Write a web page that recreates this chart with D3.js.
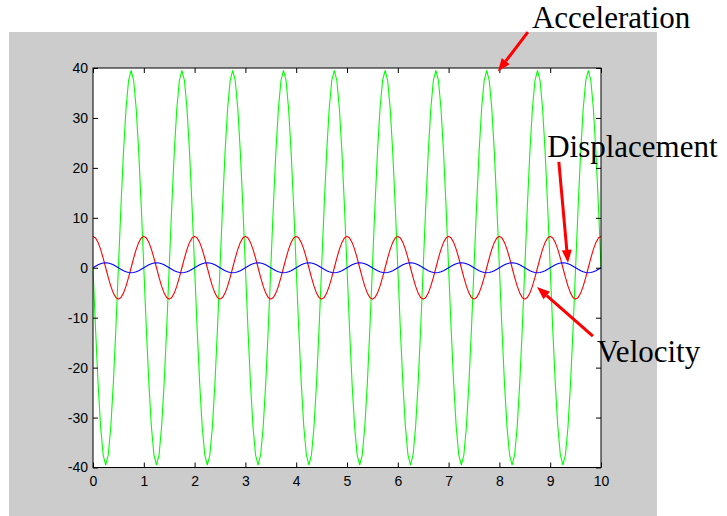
<!DOCTYPE html>
<html>
<head>
<meta charset="utf-8">
<script src="https://cdn.jsdelivr.net/npm/d3@7"></script>
<style>
  body { margin: 0; background: #fff; }
  svg { display: block; }
</style>
</head>
<body>
<div id="chart"></div>
<script>
// sampled every 0.05 s from 0 to 10 s
const sampleStep = 0.05;

const displacement = [
  0,0.31,0.59,0.81,0.95,1,0.95,0.81,0.59,0.31,0,-0.31,-0.59,-0.81,-0.95,-1,-0.95,-0.81,-0.59,-0.31,
  0,0.31,0.59,0.81,0.95,1,0.95,0.81,0.59,0.31,0,-0.31,-0.59,-0.81,-0.95,-1,-0.95,-0.81,-0.59,-0.31,
  0,0.31,0.59,0.81,0.95,1,0.95,0.81,0.59,0.31,0,-0.31,-0.59,-0.81,-0.95,-1,-0.95,-0.81,-0.59,-0.31,
  0,0.31,0.59,0.81,0.95,1,0.95,0.81,0.59,0.31,0,-0.31,-0.59,-0.81,-0.95,-1,-0.95,-0.81,-0.59,-0.31,
  0,0.31,0.59,0.81,0.95,1,0.95,0.81,0.59,0.31,0,-0.31,-0.59,-0.81,-0.95,-1,-0.95,-0.81,-0.59,-0.31,
  0,0.31,0.59,0.81,0.95,1,0.95,0.81,0.59,0.31,0,-0.31,-0.59,-0.81,-0.95,-1,-0.95,-0.81,-0.59,-0.31,
  0,0.31,0.59,0.81,0.95,1,0.95,0.81,0.59,0.31,0,-0.31,-0.59,-0.81,-0.95,-1,-0.95,-0.81,-0.59,-0.31,
  0,0.31,0.59,0.81,0.95,1,0.95,0.81,0.59,0.31,0,-0.31,-0.59,-0.81,-0.95,-1,-0.95,-0.81,-0.59,-0.31,
  0,0.31,0.59,0.81,0.95,1,0.95,0.81,0.59,0.31,0,-0.31,-0.59,-0.81,-0.95,-1,-0.95,-0.81,-0.59,-0.31,
  0,0.31,0.59,0.81,0.95,1,0.95,0.81,0.59,0.31,0,-0.31,-0.59,-0.81,-0.95,-1,-0.95,-0.81,-0.59,-0.31,
  0
];

const velocity = [
  6.28,5.97,5.08,3.69,1.94,0,-1.94,-3.69,-5.08,-5.97,-6.28,-5.97,-5.08,-3.69,-1.94,0,1.94,3.69,5.08,5.97,
  6.28,5.97,5.08,3.69,1.94,0,-1.94,-3.69,-5.08,-5.97,-6.28,-5.97,-5.08,-3.69,-1.94,0,1.94,3.69,5.08,5.97,
  6.28,5.97,5.08,3.69,1.94,0,-1.94,-3.69,-5.08,-5.97,-6.28,-5.97,-5.08,-3.69,-1.94,0,1.94,3.69,5.08,5.97,
  6.28,5.97,5.08,3.69,1.94,0,-1.94,-3.69,-5.08,-5.97,-6.28,-5.97,-5.08,-3.69,-1.94,0,1.94,3.69,5.08,5.97,
  6.28,5.97,5.08,3.69,1.94,0,-1.94,-3.69,-5.08,-5.97,-6.28,-5.97,-5.08,-3.69,-1.94,0,1.94,3.69,5.08,5.97,
  6.28,5.97,5.08,3.69,1.94,0,-1.94,-3.69,-5.08,-5.97,-6.28,-5.97,-5.08,-3.69,-1.94,0,1.94,3.69,5.08,5.97,
  6.28,5.97,5.08,3.69,1.94,0,-1.94,-3.69,-5.08,-5.97,-6.28,-5.97,-5.08,-3.69,-1.94,0,1.94,3.69,5.08,5.97,
  6.28,5.97,5.08,3.69,1.94,0,-1.94,-3.69,-5.08,-5.97,-6.28,-5.97,-5.08,-3.69,-1.94,0,1.94,3.69,5.08,5.97,
  6.28,5.97,5.08,3.69,1.94,0,-1.94,-3.69,-5.08,-5.97,-6.28,-5.97,-5.08,-3.69,-1.94,0,1.94,3.69,5.08,5.97,
  6.28,5.97,5.08,3.69,1.94,0,-1.94,-3.69,-5.08,-5.97,-6.28,-5.97,-5.08,-3.69,-1.94,0,1.94,3.69,5.08,5.97,
  6.28
];

const acceleration = [
  0,-12.2,-23.2,-31.9,-37.5,-39.5,-37.5,-31.9,-23.2,-12.2,0,12.2,23.2,31.9,37.5,39.5,37.5,31.9,23.2,12.2,
  0,-12.2,-23.2,-31.9,-37.5,-39.5,-37.5,-31.9,-23.2,-12.2,0,12.2,23.2,31.9,37.5,39.5,37.5,31.9,23.2,12.2,
  0,-12.2,-23.2,-31.9,-37.5,-39.5,-37.5,-31.9,-23.2,-12.2,0,12.2,23.2,31.9,37.5,39.5,37.5,31.9,23.2,12.2,
  0,-12.2,-23.2,-31.9,-37.5,-39.5,-37.5,-31.9,-23.2,-12.2,0,12.2,23.2,31.9,37.5,39.5,37.5,31.9,23.2,12.2,
  0,-12.2,-23.2,-31.9,-37.5,-39.5,-37.5,-31.9,-23.2,-12.2,0,12.2,23.2,31.9,37.5,39.5,37.5,31.9,23.2,12.2,
  0,-12.2,-23.2,-31.9,-37.5,-39.5,-37.5,-31.9,-23.2,-12.2,0,12.2,23.2,31.9,37.5,39.5,37.5,31.9,23.2,12.2,
  0,-12.2,-23.2,-31.9,-37.5,-39.5,-37.5,-31.9,-23.2,-12.2,0,12.2,23.2,31.9,37.5,39.5,37.5,31.9,23.2,12.2,
  0,-12.2,-23.2,-31.9,-37.5,-39.5,-37.5,-31.9,-23.2,-12.2,0,12.2,23.2,31.9,37.5,39.5,37.5,31.9,23.2,12.2,
  0,-12.2,-23.2,-31.9,-37.5,-39.5,-37.5,-31.9,-23.2,-12.2,0,12.2,23.2,31.9,37.5,39.5,37.5,31.9,23.2,12.2,
  0,-12.2,-23.2,-31.9,-37.5,-39.5,-37.5,-31.9,-23.2,-12.2,0,12.2,23.2,31.9,37.5,39.5,37.5,31.9,23.2,12.2,
  0
];

const xTicks = [0, 1, 2, 3, 4, 5, 6, 7, 8, 9, 10];
const yTicks = [-40, -30, -20, -10, 0, 10, 20, 30, 40];

// annotation labels: [label, text anchor (t, value), arrow tail (t, value), arrow tip (t, value)]
const annotations = [
  ["Acceleration", [8.64, 48.0], [8.56, 47.2], [7.97, 39.3]],
  ["Displacement", [8.94, 22.2], [9.17, 21.2], [9.35, 0.95]],
  ["Velocity", [9.92, -18.9], [9.84, -13.7], [8.74, -3.85]]
];

const time = d3.range(displacement.length).map(i => i * sampleStep);

const totalWidth = 727, totalHeight = 516;
const margin = { top: 68, right: 126, bottom: 48.5, left: 93 };
const width = totalWidth - margin.left - margin.right;
const height = totalHeight - margin.top - margin.bottom;

const root = d3.select("#chart")
  .append("svg")
  .attr("width", totalWidth)
  .attr("height", totalHeight);

// grey figure background
root.append("rect")
  .attr("x", 9).attr("y", 32)
  .attr("width", 648).attr("height", 484)
  .attr("fill", "#cccccc");

const svg = root.append("g")
  .attr("transform", `translate(${margin.left},${margin.top})`);

svg.append("rect")
  .attr("width", width).attr("height", height)
  .attr("fill", "#ffffff");

const x = d3.scaleLinear().domain([0, 10]).range([0, width]);
const y = d3.scaleLinear().domain([-40, 40]).range([height, 0]);

const line = series => d3.line()
  .x((d, i) => x(time[i]))
  .y(d => y(d))(series);

const plotArea = svg.append("g");
[[acceleration, "#00ff00"], [velocity, "#ff0000"], [displacement, "#0000ff"]]
  .forEach(([series, color]) => {
    plotArea.append("path")
      .attr("d", line(series))
      .attr("fill", "none")
      .attr("stroke", color)
      .attr("stroke-width", 1.1);
  });

// axes with inward ticks on all four sides
const tickFont = g => g.selectAll("text")
  .attr("font-family", "'Liberation Sans', Arial, sans-serif")
  .attr("font-size", 14)
  .attr("fill", "#000");
const plainNumber = d => String(d); // keep ascii hyphen as minus

svg.append("g")
  .attr("transform", `translate(0,${height})`)
  .call(d3.axisBottom(x).tickValues(xTicks).tickFormat(plainNumber)
    .tickSizeInner(-5).tickSizeOuter(0).tickPadding(9))
  .call(tickFont)
  .call(g => g.select(".domain").remove());
svg.append("g")
  .call(d3.axisTop(x).tickValues(xTicks).tickSizeInner(-5).tickSizeOuter(0).tickFormat(""))
  .call(g => g.select(".domain").remove());
svg.append("g")
  .call(d3.axisLeft(y).tickValues(yTicks).tickFormat(plainNumber)
    .tickSizeInner(-5).tickSizeOuter(0).tickPadding(5))
  .call(tickFont)
  .call(g => g.select(".domain").remove());
svg.append("g")
  .attr("transform", `translate(${width},0)`)
  .call(d3.axisRight(y).tickValues(yTicks).tickSizeInner(-5).tickSizeOuter(0).tickFormat(""))
  .call(g => g.select(".domain").remove());

svg.append("rect")
  .attr("width", width).attr("height", height)
  .attr("fill", "none")
  .attr("stroke", "#000")
  .attr("stroke-width", 1);

// annotations with red arrows
const notes = svg.append("g");
annotations.forEach(([label, textPos, tail, tip]) => {
  const x1 = x(tail[0]), y1 = y(tail[1]);
  const x2 = x(tip[0]), y2 = y(tip[1]);
  const angle = Math.atan2(y2 - y1, x2 - x1);
  const headLen = 13, headHalf = 5;
  const bx = x2 - headLen * Math.cos(angle), by = y2 - headLen * Math.sin(angle);
  notes.append("line")
    .attr("x1", x1).attr("y1", y1)
    .attr("x2", bx).attr("y2", by)
    .attr("stroke", "#ff0000")
    .attr("stroke-width", 3);
  notes.append("polygon")
    .attr("points", [
      [x2, y2],
      [bx + headHalf * Math.sin(angle), by - headHalf * Math.cos(angle)],
      [bx - headHalf * Math.sin(angle), by + headHalf * Math.cos(angle)]
    ].map(p => p.join(",")).join(" "))
    .attr("fill", "#ff0000");
  notes.append("text")
    .attr("x", x(textPos[0]))
    .attr("y", y(textPos[1]))
    .attr("font-family", "'Liberation Serif', 'Times New Roman', serif")
    .attr("font-size", 31)
    .attr("fill", "#000")
    .text(label);
});
</script>
</body>
</html>
